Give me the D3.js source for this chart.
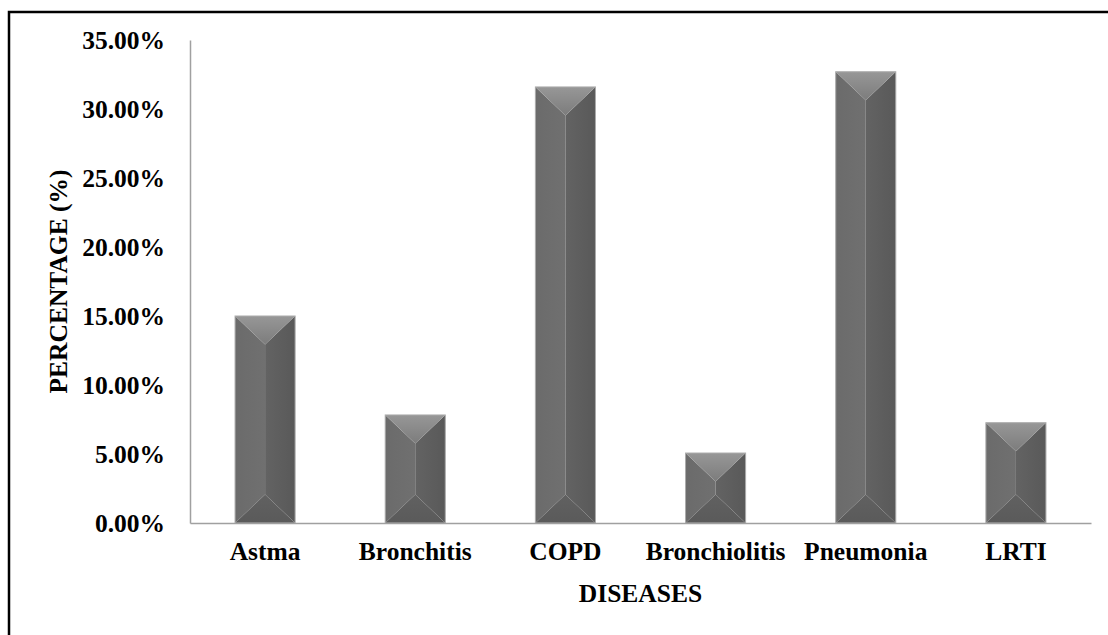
<!DOCTYPE html>
<html>
<head>
<meta charset="utf-8">
<script src="https://cdn.jsdelivr.net/npm/d3@7"></script>
<style>
  html, body { margin: 0; padding: 0; background: #fff; }
  svg { display: block; }
  text { font-family: "Liberation Serif", "Times New Roman", serif; font-weight: bold; fill: #000; }
</style>
</head>
<body>
<script>
// Share of cases by respiratory disease
const categories = ["Astma", "Bronchitis", "COPD", "Bronchiolitis", "Pneumonia", "LRTI"];
const percentages = [15.0, 7.83, 31.6, 5.07, 32.7, 7.27];
const yTicks = [0, 5, 10, 15, 20, 25, 30, 35];

const W = 1108, H = 635;
const margin = { left: 190, right: 17, top: 40, bottom: 112 };
const fontSize = "25.5px";

const svg = d3.select("body").append("svg")
  .attr("width", W).attr("height", H);

// Frame around the chart area
svg.append("rect")
  .attr("x", 9).attr("y", 12)
  .attr("width", W + 20).attr("height", H + 20)
  .attr("fill", "none").attr("stroke", "#000").attr("stroke-width", 2.5);

const x = d3.scaleBand()
  .domain(categories)
  .range([margin.left, W - margin.right])
  .paddingInner(0.6).paddingOuter(0.3);

const y = d3.scaleLinear()
  .domain([0, 35])
  .range([H - margin.bottom, margin.top]);

// Bevel gradients
const defs = svg.append("defs");
function linGrad(id, x1, y1, x2, y2, stops) {
  const g = defs.append("linearGradient").attr("id", id)
    .attr("x1", x1).attr("y1", y1).attr("x2", x2).attr("y2", y2);
  stops.forEach(([o, c]) => g.append("stop").attr("offset", o).attr("stop-color", c));
}
linGrad("gTop", 0, 0, 0, 1, [[0, "#979797"], [1, "#7c7c7c"]]);
linGrad("gLeft", 0, 0, 1, 0, [[0, "#6b6b6b"], [1, "#707070"]]);
linGrad("gRight", 0, 0, 1, 0, [[0, "#636363"], [1, "#595959"]]);
linGrad("gBottom", 0, 0, 0, 1, [[0, "#616161"], [1, "#5a5a5a"]]);

const bw = x.bandwidth();
const bars = svg.append("g").selectAll("g.bar")
  .data(categories.map((c, i) => ({ c, v: percentages[i] })))
  .join("g").attr("class", "bar");

bars.each(function(d) {
  const g = d3.select(this);
  const x0 = x(d.c), x1 = x0 + bw, xm = x0 + bw / 2;
  const yt = y(d.v), yb = y(0);
  const h = yb - yt;
  const bev = Math.min(bw / 2 * 0.95, h / 2);
  // left face
  g.append("path").attr("d", `M${x0},${yt}L${xm},${yt + bev}L${xm},${yb - bev}L${x0},${yb}Z`)
    .attr("fill", "url(#gLeft)");
  // right face
  g.append("path").attr("d", `M${x1},${yt}L${xm},${yt + bev}L${xm},${yb - bev}L${x1},${yb}Z`)
    .attr("fill", "url(#gRight)");
  // top bevel
  g.append("path").attr("d", `M${x0},${yt}L${x1},${yt}L${xm},${yt + bev}Z`)
    .attr("fill", "url(#gTop)");
  // bottom bevel
  g.append("path").attr("d", `M${x0},${yb}L${x1},${yb}L${xm},${yb - bev}Z`)
    .attr("fill", "url(#gBottom)");
  // outline
  g.append("rect").attr("x", x0).attr("y", yt).attr("width", bw).attr("height", h)
    .attr("fill", "none").attr("stroke", "#ababab").attr("stroke-width", 1);
});

// Axes
const axisColor = "#a0a0a0";
const yAxis = svg.append("g")
  .attr("transform", `translate(${margin.left},0)`)
  .call(d3.axisLeft(y).tickValues(yTicks).tickSize(0).tickPadding(25)
    .tickFormat(d => d.toFixed(2) + "%"));
yAxis.select(".domain").attr("stroke", axisColor).attr("stroke-width", 1.5);
yAxis.selectAll("text").style("font-size", fontSize).attr("fill", "#000")
  .style("font-family", "'Liberation Serif', serif").style("font-weight", "bold");

const xAxis = svg.append("g")
  .attr("transform", `translate(0,${y(0)})`)
  .call(d3.axisBottom(x).tickSize(0).tickPadding(19));
xAxis.select(".domain").attr("stroke", axisColor).attr("stroke-width", 1.5);
xAxis.selectAll("text").style("font-size", fontSize).attr("fill", "#000")
  .style("font-family", "'Liberation Serif', serif").style("font-weight", "bold");

// Axis titles
svg.append("text")
  .attr("x", (margin.left + W - margin.right) / 2).attr("y", 602)
  .attr("text-anchor", "middle").style("font-size", fontSize)
  .text("DISEASES");

svg.append("text")
  .attr("transform", `translate(67,${(margin.top + H - margin.bottom) / 2}) rotate(-90)`)
  .attr("text-anchor", "middle").style("font-size", fontSize)
  .text("PERCENTAGE (%)");
</script>
</body>
</html>
